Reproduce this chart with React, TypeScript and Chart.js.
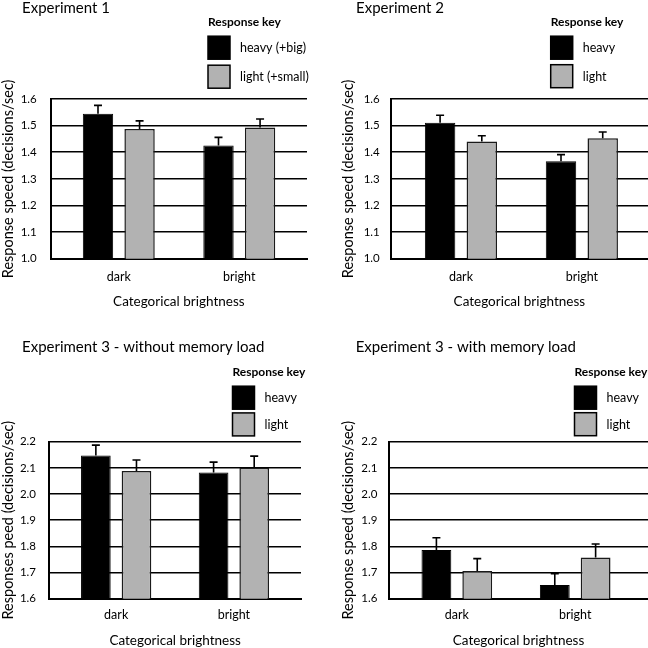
import { useEffect, useRef } from "react"
import { Chart, registerables, type ChartConfiguration, type Plugin } from "chart.js"

Chart.register(...registerables)
Chart.defaults.font.family = "Lato, 'DejaVu Sans', sans-serif"
Chart.defaults.color = "#000"

// data
const categories = ["dark", "bright"]
const exp1Series = ["heavy (+big)", "light (+small)"]
const keySeries = ["heavy", "light"]
const keyTitle = "Response key"
const xTitle = "Categorical brightness"

const exp1Heavy = [1.545, 1.425]
const exp1HeavyErr = [0.031, 0.031]
const exp1Light = [1.487, 1.493]
const exp1LightErr = [0.031, 0.032]

const exp2Heavy = [1.511, 1.366]
const exp2HeavyErr = [0.028, 0.025]
const exp2Light = [1.44, 1.453]
const exp2LightErr = [0.022, 0.023]

const exp3NoLoadHeavy = [2.147, 2.082]
const exp3NoLoadHeavyErr = [0.04, 0.04]
const exp3NoLoadLight = [2.088, 2.1]
const exp3NoLoadLightErr = [0.042, 0.045]

const exp3LoadHeavy = [1.786, 1.652]
const exp3LoadHeavyErr = [0.047, 0.044]
const exp3LoadLight = [1.706, 1.757]
const exp3LoadLightErr = [0.047, 0.052]

const topRange = [1.0, 1.6]
const bottomRange = [1.6, 2.2]

const SIZE = 324
const HEAVY = "#000000"
const LIGHT = "#b2b2b2"

const errorBars: Plugin<"bar"> = {
  id: "errorBars",
  afterDatasetsDraw(chart) {
    const { ctx } = chart
    const yScale = chart.scales.y
    chart.data.datasets.forEach((ds: any, di) => {
      const meta = chart.getDatasetMeta(di)
      meta.data.forEach((bar: any, i) => {
        const v = ds.data[i].y
        const top = yScale.getPixelForValue(v + ds.errors[i])
        ctx.save()
        ctx.strokeStyle = "#000"
        ctx.lineWidth = 1.6
        ctx.beginPath()
        ctx.moveTo(bar.x, bar.y)
        ctx.lineTo(bar.x, top)
        ctx.moveTo(bar.x - 4, top)
        ctx.lineTo(bar.x + 4, top)
        ctx.stroke()
        ctx.restore()
      })
    })
  },
}

// panel title + "Response key" block
const panelDecor: Plugin<"bar"> = {
  id: "panelDecor",
  afterDraw(chart, _args, opts: any) {
    const { ctx } = chart
    ctx.save()
    ctx.fillStyle = "#000"
    ctx.textBaseline = "middle"
    ctx.textAlign = "left"
    ctx.font = "15px Lato"
    ctx.fillText(opts.title, opts.titleX, opts.titleY)
    ctx.font = "bold 12px Lato"
    ctx.fillText(keyTitle, opts.keyX, opts.keyY)
    ctx.font = "12.5px Lato"
    chart.data.datasets.forEach((ds: any, i) => {
      const top = opts.keyY + 14.5 + i * opts.keyPitch
      ctx.fillStyle = ds.backgroundColor
      ctx.fillRect(opts.keyX, top, 22, 23)
      ctx.strokeStyle = "#000"
      ctx.lineWidth = 1.5
      ctx.strokeRect(opts.keyX, top, 22, 23)
      ctx.fillStyle = "#000"
      ctx.fillText(ds.label, opts.keyX + 32, top + 12)
    })
    ctx.restore()
  },
}

type PanelCfg = {
  left: number
  top: number
  title: string
  yTitle: string
  range: number[]
  series: string[]
  heavy: number[]
  heavyErr: number[]
  light: number[]
  lightErr: number[]
  area: { left: number; right: number; top: number; bottom: number }
  xMin: number
  xMax: number
  padLeft: number
  yTickPad: number
  xTickPad: number
  xTitlePad: number
  titleX: number
  titleY: number
  keyX: number
  keyY: number
  keyPitch: number
}

const panels: PanelCfg[] = [
  {
    left: 0, top: 0, title: "Experiment 1", yTitle: "Response speed (decisions/sec)", range: topRange,
    series: exp1Series, heavy: exp1Heavy, heavyErr: exp1HeavyErr, light: exp1Light, lightErr: exp1LightErr,
    area: { left: 50.7, right: 307, top: 99, bottom: 258.7 }, xMin: -0.565, xMax: 1.562,
    padLeft: 0, yTickPad: 14, xTickPad: 10.5, xTitlePad: 15.5,
    titleX: 22, titleY: 8, keyX: 208, keyY: 21.7, keyPitch: 29,
  },
  {
    left: 324, top: 0, title: "Experiment 2", yTitle: "Response speed (decisions/sec)", range: topRange,
    series: keySeries, heavy: exp2Heavy, heavyErr: exp2HeavyErr, light: exp2Light, lightErr: exp2LightErr,
    area: { left: 66.7, right: 324, top: 99, bottom: 258.7 }, xMin: -0.581, xMax: 1.547,
    padLeft: 16, yTickPad: 11, xTickPad: 10.5, xTitlePad: 15.5,
    titleX: 32, titleY: 8, keyX: 226.7, keyY: 21.7, keyPitch: 28.5,
  },
  {
    left: 0, top: 324, title: "Experiment 3 - without memory load", yTitle: "Responses peed (decisions/sec)", range: bottomRange,
    series: keySeries, heavy: exp3NoLoadHeavy, heavyErr: exp3NoLoadHeavyErr, light: exp3NoLoadLight, lightErr: exp3NoLoadLightErr,
    area: { left: 49.3, right: 301, top: 117.7, bottom: 274.7 }, xMin: -0.568, xMax: 1.57,
    padLeft: 0.5, yTickPad: 13.3, xTickPad: 8.8, xTitlePad: 0.5,
    titleX: 22, titleY: 22.7, keyX: 232.5, keyY: 47.7, keyPitch: 26.7,
  },
  {
    left: 324, top: 324, title: "Experiment 3 - with memory load", yTitle: "Response speed (decisions/sec)", range: bottomRange,
    series: keySeries, heavy: exp3LoadHeavy, heavyErr: exp3LoadHeavyErr, light: exp3LoadLight, lightErr: exp3LoadLightErr,
    area: { left: 65, right: 324, top: 117.7, bottom: 274.7 }, xMin: -0.573, xMax: 1.615,
    padLeft: 16, yTickPad: 11.7, xTickPad: 8.8, xTitlePad: 0.5,
    titleX: 31.7, titleY: 22.7, keyX: 250.5, keyY: 47.7, keyPitch: 26.5,
  },
]

function buildConfig(p: PanelCfg): ChartConfiguration<"bar"> {
  return {
    type: "bar",
    data: {
      datasets: [
        {
          label: p.series[0],
          data: p.heavy.map((y, i) => ({ x: i, y })),
          errors: p.heavyErr,
          backgroundColor: HEAVY,
          borderColor: "#000",
          borderWidth: 1,
        },
        {
          label: p.series[1],
          data: p.light.map((y, i) => ({ x: i, y })),
          errors: p.lightErr,
          backgroundColor: LIGHT,
          borderColor: "#1a1a1a",
          borderWidth: 1.5,
        },
      ] as any,
    },
    options: {
      responsive: false,
      animation: false,
      datasets: { bar: { categoryPercentage: 0.69, barPercentage: 0.73 } },
      layout: { padding: { left: p.padLeft, top: p.area.top, right: SIZE - p.area.right, bottom: 0 } },
      scales: {
        x: {
          type: "linear",
          offset: false,
          min: p.xMin,
          max: p.xMax,
          afterBuildTicks: (s: any) => {
            s.ticks = categories.map((_, i) => ({ value: i }))
          },
          afterFit: (s: any) => {
            s.height = SIZE - p.area.bottom
          },
          grid: { display: false, drawTicks: false },
          border: { display: true, color: "#000", width: 2 },
          ticks: {
            padding: p.xTickPad,
            font: { size: 12.5, lineHeight: 1.2 },
            callback: (v: any) => categories[v] ?? "",
          },
          title: {
            display: true,
            text: xTitle,
            font: { size: 13.5, lineHeight: 1 },
            padding: { top: 0, bottom: p.xTitlePad },
          },
        },
        y: {
          min: p.range[0],
          max: p.range[1],
          afterFit: (s: any) => {
            s.width = p.area.left - p.padLeft
          },
          grid: { color: "#000", lineWidth: 1.5, drawTicks: false },
          border: { display: true, color: "#000", width: 2 },
          ticks: {
            stepSize: 0.1,
            padding: p.yTickPad,
            font: { size: 11.5 },
            callback: (v: any) => Number(v).toFixed(1),
          },
          title: {
            display: true,
            text: p.yTitle,
            font: { size: 14.5, lineHeight: 1 },
            padding: { top: 1, bottom: 0 },
          },
        },
      },
      plugins: {
        legend: { display: false },
        tooltip: { enabled: false },
        panelDecor: {
          title: p.title,
          titleX: p.titleX,
          titleY: p.titleY,
          keyX: p.keyX,
          keyY: p.keyY,
          keyPitch: p.keyPitch,
        },
      } as any,
    },
    plugins: [errorBars, panelDecor],
  }
}

function Panel({ cfg }: { cfg: PanelCfg }) {
  const canvasRef = useRef<HTMLCanvasElement>(null)

  useEffect(() => {
    if (!canvasRef.current) return
    const chart = new Chart(canvasRef.current, buildConfig(cfg))
    return () => chart.destroy()
  }, [cfg])

  return (
    <canvas
      ref={canvasRef}
      width={SIZE}
      height={SIZE}
      style={{ position: "absolute", left: cfg.left, top: cfg.top, width: SIZE, height: SIZE }}
    />
  )
}

export default function App() {
  return (
    <div style={{ position: "absolute", left: 0, top: 0, width: 648, height: 648, background: "#fff", overflow: "hidden" }}>
      {panels.map((p, i) => (
        <Panel key={i} cfg={p} />
      ))}
    </div>
  )
}
